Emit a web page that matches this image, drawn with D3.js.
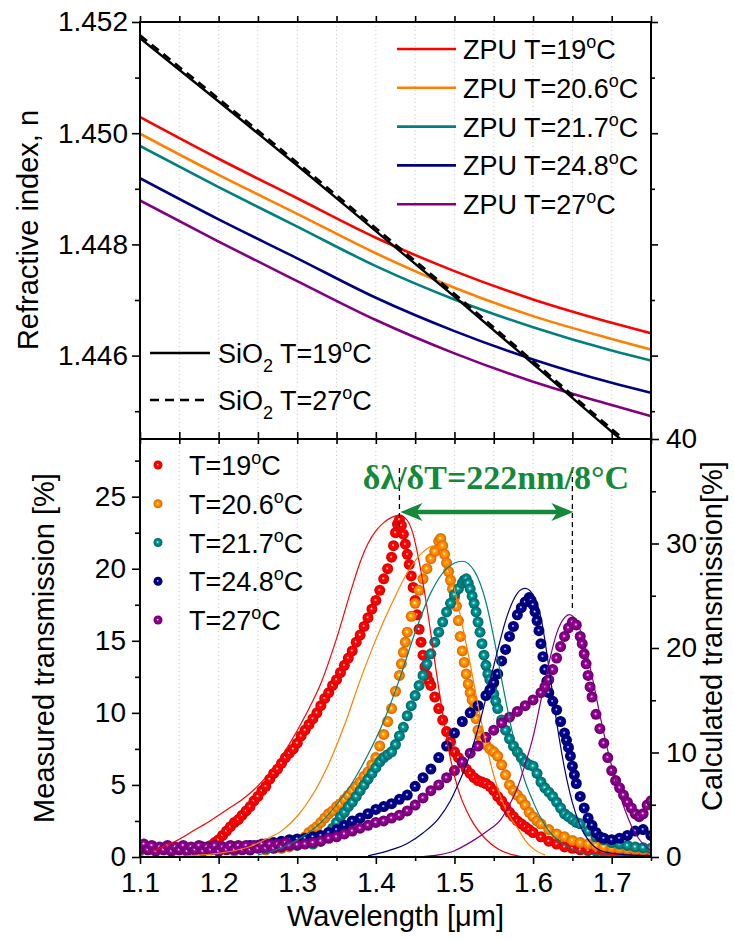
<!DOCTYPE html>
<html>
<head>
<meta charset="utf-8">
<script src="https://cdn.jsdelivr.net/npm/d3@7"></script>
<style>
  body { margin: 0; background: #fff; }
  svg { font-family: "Liberation Sans", Arial, sans-serif; }
</style>
</head>
<body>
<svg id="chart" width="734" height="941"></svg>
<script>
// ---- data: refractive index (top panel) ----
const lambdaTop = [1.10, 1.20, 1.30, 1.40, 1.50, 1.60, 1.70, 1.75];
const sio2T19 = [1.45171, 1.45057, 1.44942, 1.44824, 1.44706, 1.44585, 1.44463, 1.44404];
const sio2T27 = [1.45176, 1.45062, 1.44947, 1.44829, 1.44711, 1.44590, 1.44468, 1.44409];
const zpuT19 = [1.45029, 1.44954, 1.44883, 1.44812, 1.44752, 1.44701, 1.44659, 1.44640];
const zpuT206 = [1.44999, 1.44925, 1.44855, 1.44784, 1.44722, 1.44671, 1.44630, 1.44611];
const zpuT217 = [1.44977, 1.44903, 1.44832, 1.44761, 1.44701, 1.44651, 1.44609, 1.44591];
const zpuT248 = [1.44919, 1.44845, 1.44775, 1.44704, 1.44644, 1.44593, 1.44551, 1.44533];
const zpuT27 = [1.44879, 1.44805, 1.44734, 1.44664, 1.44604, 1.44553, 1.44511, 1.44491];

const temps = ['19', '20.6', '21.7', '24.8', '27'];
const colors = ['#ff0000', '#ff8000', '#008080', '#000080', '#800080'];

// ---- data: measured transmission [%] (left axis), [wavelength, value] ----
const measT19 = [[1.10,0.5],[1.11,0.5],[1.12,0.5],[1.13,0.5],[1.14,0.5],[1.15,0.5],[1.16,0.5],[1.17,0.5],[1.18,0.6],[1.19,0.8],[1.195,1.0],[1.20,1.2],[1.205,1.5],[1.21,1.8],[1.215,2.1],[1.22,2.4],[1.225,2.6],[1.23,2.9],[1.235,3.2],[1.24,3.5],[1.245,3.9],[1.25,4.2],[1.255,4.6],[1.26,4.9],[1.265,5.4],[1.27,5.8],[1.275,6.1],[1.28,6.5],[1.285,6.9],[1.29,7.2],[1.295,7.5],[1.30,7.9],[1.305,8.4],[1.31,8.8],[1.315,9.2],[1.32,9.6],[1.325,10.0],[1.33,10.5],[1.335,11.0],[1.34,11.4],[1.345,11.9],[1.35,12.3],[1.355,12.8],[1.36,13.3],[1.365,13.8],[1.37,14.3],[1.375,14.9],[1.38,15.4],[1.385,16.0],[1.39,16.6],[1.395,17.2],[1.40,17.8],[1.405,18.5],[1.41,19.3],[1.415,20.0],[1.42,20.8],[1.4225,21.6],[1.425,22.5],[1.4275,23.1],[1.43,23.4],[1.4325,23.0],[1.435,22.4],[1.4375,21.7],[1.44,21.0],[1.4425,20.3],[1.445,19.5],[1.4475,18.7],[1.45,17.8],[1.4525,16.8],[1.455,15.8],[1.4575,14.9],[1.46,14.0],[1.4625,13.2],[1.465,12.6],[1.4675,12.2],[1.47,11.9],[1.475,11.1],[1.48,10.3],[1.485,9.5],[1.49,8.7],[1.495,8.0],[1.50,7.3],[1.505,6.9],[1.51,6.5],[1.515,6.1],[1.52,5.8],[1.525,5.5],[1.53,5.3],[1.535,5.2],[1.54,5.1],[1.545,4.9],[1.55,4.6],[1.555,4.2],[1.56,3.9],[1.565,3.5],[1.57,3.1],[1.575,2.8],[1.58,2.5],[1.585,2.3],[1.59,2.1],[1.595,1.9],[1.60,1.7],[1.61,1.4],[1.62,1.1],[1.63,0.9],[1.64,0.7],[1.65,0.6],[1.66,0.5],[1.67,0.45],[1.68,0.4],[1.69,0.35],[1.70,0.3],[1.71,0.3],[1.72,0.25],[1.73,0.25],[1.74,0.2],[1.75,0.2]];
const measT206 = [[1.10,0.4],[1.12,0.4],[1.14,0.4],[1.16,0.4],[1.18,0.4],[1.20,0.4],[1.22,0.4],[1.24,0.5],[1.26,0.5],[1.28,0.6],[1.29,0.7],[1.30,0.9],[1.305,1.1],[1.31,1.4],[1.315,1.7],[1.32,1.9],[1.325,2.1],[1.33,2.4],[1.335,2.7],[1.34,3.0],[1.345,3.2],[1.35,3.5],[1.355,3.7],[1.36,4.0],[1.365,4.3],[1.37,4.6],[1.375,4.9],[1.38,5.2],[1.385,5.6],[1.39,5.9],[1.395,6.4],[1.40,6.9],[1.405,7.7],[1.41,8.5],[1.415,9.4],[1.42,10.3],[1.425,11.5],[1.43,12.6],[1.4325,13.4],[1.435,14.2],[1.4375,14.9],[1.44,15.6],[1.445,16.7],[1.45,17.6],[1.455,18.5],[1.46,19.3],[1.465,20.0],[1.47,20.7],[1.475,21.2],[1.48,21.9],[1.4825,22.1],[1.485,21.6],[1.4875,21.0],[1.49,20.4],[1.4925,19.8],[1.495,19.2],[1.4975,18.6],[1.50,18.0],[1.5025,17.4],[1.505,16.4],[1.5075,15.3],[1.51,14.3],[1.5125,13.5],[1.515,12.7],[1.5175,12.0],[1.52,11.4],[1.5225,10.9],[1.525,10.3],[1.5275,9.6],[1.53,8.8],[1.5325,8.4],[1.535,8.1],[1.54,7.8],[1.545,7.5],[1.55,7.3],[1.555,7.0],[1.56,6.4],[1.565,5.7],[1.57,5.0],[1.575,4.6],[1.58,4.3],[1.585,4.0],[1.59,3.6],[1.595,3.1],[1.60,2.8],[1.605,2.5],[1.61,2.3],[1.62,1.9],[1.63,1.6],[1.64,1.4],[1.65,1.15],[1.66,1.0],[1.67,0.9],[1.68,0.8],[1.69,0.7],[1.70,0.65],[1.71,0.6],[1.72,0.55],[1.73,0.5],[1.74,0.5],[1.75,0.5]];
const measT217 = [[1.10,0.5],[1.12,0.5],[1.14,0.5],[1.16,0.5],[1.18,0.5],[1.20,0.5],[1.22,0.5],[1.24,0.5],[1.26,0.6],[1.28,0.7],[1.30,0.8],[1.32,0.9],[1.33,1.1],[1.335,1.4],[1.34,1.7],[1.345,2.0],[1.35,2.4],[1.355,2.8],[1.36,3.1],[1.365,3.5],[1.37,3.8],[1.375,4.2],[1.38,4.6],[1.385,5.0],[1.39,5.4],[1.395,5.8],[1.40,6.2],[1.405,6.6],[1.41,6.9],[1.415,7.1],[1.42,7.3],[1.425,7.8],[1.43,8.4],[1.435,9.0],[1.44,9.8],[1.445,10.5],[1.45,11.2],[1.455,11.9],[1.46,12.6],[1.465,13.4],[1.47,14.1],[1.475,14.9],[1.48,15.6],[1.485,16.3],[1.49,17.0],[1.495,17.6],[1.50,18.2],[1.505,18.6],[1.51,19.0],[1.5125,19.2],[1.515,19.3],[1.5175,19.0],[1.52,18.6],[1.5225,18.1],[1.525,17.6],[1.5275,17.0],[1.53,16.3],[1.5325,15.6],[1.535,14.8],[1.5375,14.0],[1.54,13.3],[1.5425,12.7],[1.545,12.3],[1.5475,11.8],[1.55,11.3],[1.5525,10.8],[1.555,10.3],[1.56,9.5],[1.565,8.8],[1.57,8.2],[1.575,7.7],[1.58,7.3],[1.585,6.9],[1.59,6.6],[1.595,6.4],[1.60,6.3],[1.605,5.8],[1.61,5.2],[1.615,4.8],[1.62,4.5],[1.625,4.2],[1.63,3.8],[1.635,3.4],[1.64,3.0],[1.645,2.8],[1.65,2.6],[1.655,2.4],[1.66,2.3],[1.67,1.8],[1.68,1.4],[1.69,1.2],[1.70,1.0],[1.71,0.9],[1.72,0.8],[1.73,0.7],[1.74,0.65],[1.75,0.6]];
const measT248 = [[1.10,0.6],[1.12,0.6],[1.14,0.6],[1.16,0.6],[1.18,0.7],[1.20,0.7],[1.22,0.7],[1.24,0.8],[1.25,0.8],[1.26,0.9],[1.27,1.0],[1.28,1.1],[1.29,1.2],[1.30,1.25],[1.31,1.3],[1.32,1.4],[1.33,1.5],[1.34,1.7],[1.35,1.9],[1.36,2.2],[1.37,2.5],[1.38,2.7],[1.39,3.0],[1.40,3.3],[1.41,3.5],[1.42,3.7],[1.43,4.0],[1.44,4.3],[1.45,4.9],[1.46,5.5],[1.47,6.1],[1.48,6.9],[1.49,7.7],[1.50,8.6],[1.51,9.4],[1.52,10.0],[1.53,10.5],[1.54,11.2],[1.545,11.6],[1.55,12.1],[1.555,12.7],[1.56,13.6],[1.565,14.4],[1.57,15.3],[1.575,16.0],[1.58,16.8],[1.585,17.3],[1.59,17.7],[1.595,18.0],[1.5975,17.8],[1.60,17.5],[1.6025,17.0],[1.605,16.4],[1.6075,15.7],[1.61,14.8],[1.6125,13.9],[1.615,13.0],[1.6175,12.2],[1.62,11.4],[1.625,10.8],[1.63,10.2],[1.635,9.4],[1.64,8.6],[1.6425,8.1],[1.645,7.6],[1.6475,7.0],[1.65,6.3],[1.6525,5.7],[1.655,5.1],[1.66,4.2],[1.665,3.4],[1.67,2.7],[1.675,2.2],[1.68,1.7],[1.685,1.4],[1.69,1.3],[1.70,1.2],[1.71,1.3],[1.72,1.5],[1.73,1.8],[1.74,1.9],[1.75,1.5]];
const measT27 = [[1.10,0.6],[1.105,0.9],[1.11,0.5],[1.115,0.8],[1.12,0.4],[1.125,0.7],[1.13,0.5],[1.135,0.8],[1.14,0.4],[1.145,0.7],[1.15,0.5],[1.155,0.8],[1.16,0.4],[1.165,0.7],[1.17,0.5],[1.175,0.8],[1.18,0.4],[1.185,0.7],[1.19,0.5],[1.195,0.8],[1.20,0.4],[1.205,0.7],[1.21,0.5],[1.215,0.8],[1.22,0.5],[1.225,0.8],[1.23,0.5],[1.235,0.8],[1.24,0.5],[1.245,0.8],[1.25,0.6],[1.255,0.9],[1.26,0.6],[1.265,0.9],[1.27,0.6],[1.275,0.9],[1.28,0.7],[1.285,1.0],[1.29,0.8],[1.30,0.85],[1.31,0.9],[1.32,1.0],[1.33,1.1],[1.34,1.3],[1.35,1.4],[1.36,1.6],[1.37,1.8],[1.38,2.0],[1.39,2.2],[1.40,2.4],[1.41,2.5],[1.42,2.7],[1.43,2.9],[1.44,3.2],[1.45,3.6],[1.46,4.1],[1.47,4.6],[1.48,5.0],[1.49,5.5],[1.50,6.0],[1.51,6.6],[1.52,7.2],[1.53,7.7],[1.54,8.3],[1.55,8.8],[1.56,9.3],[1.57,9.7],[1.58,10.1],[1.59,10.5],[1.60,10.9],[1.61,11.4],[1.615,11.8],[1.62,12.3],[1.625,13.0],[1.63,13.8],[1.635,14.6],[1.64,15.3],[1.645,15.9],[1.65,16.3],[1.655,16.1],[1.66,15.3],[1.6625,14.8],[1.665,14.1],[1.6675,13.4],[1.67,12.6],[1.6725,11.8],[1.675,11.1],[1.68,9.9],[1.685,8.9],[1.69,7.9],[1.695,6.9],[1.70,6.0],[1.705,5.3],[1.71,4.8],[1.715,4.3],[1.72,3.8],[1.725,3.4],[1.73,3.0],[1.735,2.8],[1.74,3.0],[1.745,3.6],[1.75,3.9]];

// ---- data: calculated transmission [%] (right axis) ----
const calcT19 = [[1.115,0.5],[1.13,1.0],[1.15,1.7],[1.17,2.6],[1.19,3.5],[1.21,4.5],[1.23,5.5],[1.25,6.8],[1.27,8.5],[1.29,10.8],[1.31,13.5],[1.33,16.6],[1.35,20.9],[1.37,25.9],[1.38,28.2],[1.39,30.0],[1.40,31.2],[1.41,32.0],[1.42,32.5],[1.43,32.7],[1.44,32.2],[1.447,31.0],[1.455,28.3],[1.465,23.9],[1.475,18.7],[1.485,13.7],[1.495,9.4],[1.505,6.4],[1.515,4.5],[1.525,3.1],[1.54,1.7],[1.555,0.8],[1.57,0.3],[1.585,0.05]];
const calcT206 = [[1.14,0.05],[1.16,0.1],[1.18,0.2],[1.20,0.35],[1.22,0.6],[1.24,1.0],[1.26,1.7],[1.28,2.5],[1.30,3.9],[1.32,6.0],[1.34,8.9],[1.36,12.6],[1.38,16.9],[1.40,20.8],[1.42,24.2],[1.44,27.2],[1.46,29.2],[1.475,29.8],[1.49,28.0],[1.50,25.6],[1.51,22.2],[1.52,18.5],[1.53,14.5],[1.54,10.9],[1.55,7.8],[1.56,5.5],[1.57,3.9],[1.58,2.8],[1.59,1.6],[1.60,0.8],[1.615,0.2]];
const calcT217 = [[1.25,0.2],[1.27,0.6],[1.29,1.2],[1.31,2.1],[1.33,3.3],[1.35,5.0],[1.37,7.1],[1.39,9.8],[1.41,13.0],[1.43,17.0],[1.45,21.5],[1.47,25.3],[1.49,27.6],[1.51,28.3],[1.525,27.4],[1.54,24.4],[1.55,21.0],[1.56,17.0],[1.57,13.2],[1.58,9.8],[1.59,7.2],[1.60,5.3],[1.61,3.7],[1.62,2.5],[1.635,1.4],[1.655,0.6],[1.68,0.2],[1.75,0.05]];
const calcT248 = [[1.39,0.1],[1.42,0.7],[1.44,1.3],[1.46,2.3],[1.48,3.7],[1.495,5.4],[1.505,7.0],[1.515,8.8],[1.525,11.0],[1.535,13.7],[1.545,16.8],[1.555,19.8],[1.565,22.6],[1.575,24.6],[1.585,25.6],[1.59,25.7],[1.60,25.1],[1.61,22.9],[1.62,18.2],[1.63,12.9],[1.64,8.5],[1.65,5.2],[1.66,3.0],[1.675,1.2],[1.69,0.5],[1.72,0.2],[1.75,0.1]];
const calcT27 = [[1.46,0.05],[1.48,0.2],[1.50,0.6],[1.52,1.4],[1.54,2.4],[1.56,3.7],[1.57,5.0],[1.58,6.6],[1.59,8.9],[1.60,11.5],[1.61,15.0],[1.62,18.5],[1.63,21.4],[1.64,22.9],[1.646,23.2],[1.655,22.6],[1.665,20.5],[1.675,17.3],[1.685,13.6],[1.695,10.2],[1.705,7.3],[1.715,4.9],[1.725,3.0],[1.735,1.7],[1.75,0.6]];

// ---- ticks ----
const xMajor = [1.1, 1.2, 1.3, 1.4, 1.5, 1.6, 1.7];
const xAll = d3.range(0, 14).map(i => +(1.1 + i * 0.05).toFixed(2));
const nMajor = [1.446, 1.448, 1.450, 1.452];
const nMinor = [1.445, 1.447, 1.449, 1.451];
const measMajor = [0, 5, 10, 15, 20, 25];
const measMinor = [2.5, 7.5, 12.5, 17.5, 22.5, 27.5];
const calcMajor = [0, 10, 20, 30, 40];
const calcMinor = [5, 15, 25, 35];
const peakMarks = [1.43, 1.65];

const zpuValues = [zpuT19, zpuT206, zpuT217, zpuT248, zpuT27];
const measValues = [measT19, measT206, measT217, measT248, measT27];
const calcValues = [calcT19, calcT206, calcT217, calcT248, calcT27];

const svg = d3.select('#chart');
const L = 140, R = 651, T1 = 22, MID = 439, B = 857;
const x = d3.scaleLinear().domain([1.1, 1.75]).range([L, R]);
const yTop = d3.scaleLinear().domain([1.4445, 1.452]).range([MID, T1]);
const yL = d3.scaleLinear().domain([0, 29]).range([B, MID]);
const yR = d3.scaleLinear().domain([0, 40]).range([B, MID]);

const defs = svg.append('defs');
defs.append('clipPath').attr('id', 'clipTop').append('rect')
  .attr('x', L).attr('y', T1).attr('width', R - L).attr('height', MID - T1);
defs.append('clipPath').attr('id', 'clipBot').append('rect')
  .attr('x', L).attr('y', MID).attr('width', R - L).attr('height', B - MID);

colors.forEach((c, i) => {
  const g = defs.append('radialGradient').attr('id', 'ball' + i)
    .attr('cx', '50%').attr('cy', '50%').attr('r', '50%').attr('fx', '45%').attr('fy', '45%');
  g.append('stop').attr('offset', '0%').attr('stop-color', '#fff');
  g.append('stop').attr('offset', '28%').attr('stop-color', d3.color(c).brighter(0.7));
  g.append('stop').attr('offset', '62%').attr('stop-color', c);
  g.append('stop').attr('offset', '100%').attr('stop-color', d3.color(c).darker(0.6));
});

// grid
[[T1, MID], [MID, B]].forEach(([y0, y1]) => {
  svg.append('g').selectAll('line').data(xAll.slice(1, -1)).join('line')
    .attr('x1', d => x(d)).attr('x2', d => x(d)).attr('y1', y0).attr('y2', y1)
    .attr('stroke', '#c8c8c8').attr('stroke-width', 1).attr('stroke-dasharray', '1,3');
});

// ---- top panel ----
const topG = svg.append('g').attr('clip-path', 'url(#clipTop)');
const lineTop = d3.line().x((d, i) => x(lambdaTop[i])).y(d => yTop(d)).curve(d3.curveMonotoneX);
zpuValues.forEach((v, i) => {
  topG.append('path').attr('d', lineTop(v)).attr('fill', 'none')
    .attr('stroke', colors[i]).attr('stroke-width', 2.6);
});
topG.append('path').attr('d', lineTop(sio2T19)).attr('fill', 'none')
  .attr('stroke', '#000').attr('stroke-width', 2.4);
topG.append('path').attr('d', lineTop(sio2T27)).attr('fill', 'none')
  .attr('stroke', '#000').attr('stroke-width', 2.6).attr('stroke-dasharray', '9,6');

// ---- bottom panel ----
const botG = svg.append('g').attr('clip-path', 'url(#clipBot)');
measValues.forEach((v, i) => {
  botG.append('g').selectAll('circle').data(v).join('circle')
    .attr('cx', d => x(d[0])).attr('cy', d => yL(d[1])).attr('r', 5.5)
    .attr('fill', `url(#ball${i})`);
});
const lineCalc = d3.line().x(d => x(d[0])).y(d => yR(d[1])).curve(d3.curveMonotoneX);
calcValues.forEach((v, i) => {
  botG.append('path').attr('d', lineCalc(v)).attr('fill', 'none')
    .attr('stroke', colors[i]).attr('stroke-width', 1.2);
});

// peak shift annotation
const green = '#15893a';
svg.append('g').selectAll('line').data(peakMarks).join('line')
  .attr('x1', d => x(d)).attr('x2', d => x(d))
  .attr('y1', 468).attr('y2', (d, i) => i === 0 ? 527 : 612)
  .attr('stroke', '#000').attr('stroke-width', 1.3).attr('stroke-dasharray', '5,4');
const ay = 512, ax0 = x(peakMarks[0]) + 1, ax1 = x(peakMarks[1]) + 1;
svg.append('line').attr('x1', ax0 + 12).attr('x2', ax1 - 12).attr('y1', ay).attr('y2', ay)
  .attr('stroke', green).attr('stroke-width', 4.5);
svg.append('path').attr('fill', green)
  .attr('d', `M${ax0},${ay} L${ax0 + 22},${ay - 9} L${ax0 + 16},${ay} L${ax0 + 22},${ay + 9} Z`);
svg.append('path').attr('fill', green)
  .attr('d', `M${ax1},${ay} L${ax1 - 22},${ay - 9} L${ax1 - 16},${ay} L${ax1 - 22},${ay + 9} Z`);
svg.append('text').attr('x', 496).attr('y', 489).attr('text-anchor', 'middle')
  .attr('font-family', '"Liberation Serif", "Times New Roman", serif')
  .attr('font-weight', 'bold').attr('font-size', 34).attr('fill', green)
  .text('δλ/δT=222nm/8°C');

// ---- frames ----
svg.append('rect').attr('x', L).attr('y', T1).attr('width', R - L).attr('height', B - T1)
  .attr('fill', 'none').attr('stroke', '#000').attr('stroke-width', 2);
svg.append('line').attr('x1', L).attr('x2', R).attr('y1', MID).attr('y2', MID)
  .attr('stroke', '#000').attr('stroke-width', 2);

// ---- axes ----
const fontTick = 28;
function styleAxis(g) {
  g.select('.domain').remove();
  g.selectAll('.tick line').attr('stroke', '#000').attr('stroke-width', 1.6);
  g.selectAll('.tick text').attr('fill', '#000')
    .attr('font-family', '"Liberation Sans", Arial, sans-serif').attr('font-size', fontTick);
}
function addAxis(axis, tx, ty) {
  svg.append('g').attr('transform', `translate(${tx},${ty})`).call(axis).call(styleAxis);
}
const noLabel = () => '';
// bottom x axis
addAxis(d3.axisBottom(x).tickValues(xMajor).tickSize(7).tickPadding(8).tickFormat(d3.format('.1f')), 0, B);
addAxis(d3.axisBottom(x).tickValues(xAll.filter(d => !xMajor.includes(d))).tickSize(4).tickFormat(noLabel), 0, B);
// shared middle border and top border
addAxis(d3.axisTop(x).tickValues(xAll).tickSize(7).tickFormat(noLabel), 0, MID);
addAxis(d3.axisBottom(x).tickValues(xAll).tickSize(5).tickFormat(noLabel), 0, MID);
addAxis(d3.axisTop(x).tickValues(xAll).tickSize(6).tickFormat(noLabel), 0, T1);
// top panel y axes
addAxis(d3.axisLeft(yTop).tickValues(nMajor).tickSize(8).tickPadding(4).tickFormat(d3.format('.3f')), L, 0);
addAxis(d3.axisLeft(yTop).tickValues(nMinor).tickSize(5).tickFormat(noLabel), L, 0);
addAxis(d3.axisRight(yTop).tickValues(nMajor).tickSize(7).tickFormat(noLabel), R, 0);
addAxis(d3.axisRight(yTop).tickValues(nMinor).tickSize(4).tickFormat(noLabel), R, 0);
// bottom panel y axes
addAxis(d3.axisLeft(yL).tickValues(measMajor).tickSize(8).tickPadding(6).tickFormat(d3.format('d')), L, 0);
addAxis(d3.axisLeft(yL).tickValues(measMinor).tickSize(5).tickFormat(noLabel), L, 0);
addAxis(d3.axisRight(yR).tickValues(calcMajor).tickSize(8).tickPadding(7).tickFormat(d3.format('d')), R, 0);
addAxis(d3.axisRight(yR).tickValues(calcMinor).tickSize(5).tickFormat(noLabel), R, 0);

// axis titles
const fontTitle = 29;
svg.append('text').attr('transform', 'translate(38,230) rotate(-90)').attr('text-anchor', 'middle')
  .attr('font-size', fontTitle).text('Refractive index, n');
svg.append('text').attr('transform', 'translate(54,648) rotate(-90)').attr('text-anchor', 'middle')
  .attr('font-size', fontTitle).text('Measured transmission [%]');
svg.append('text').attr('transform', 'translate(722,636) rotate(-90)').attr('text-anchor', 'middle')
  .attr('font-size', fontTitle).text('Calculated transmission[%]');
svg.append('text').attr('x', (L + R) / 2).attr('y', 926).attr('text-anchor', 'middle')
  .attr('font-size', fontTitle).text('Wavelength [μm]');

// ---- legends ----
const fontLeg = 27;
function degText(t, xPos, yPos, prefix, value) {
  const tx = t.append('text').attr('x', xPos).attr('y', yPos).attr('font-size', fontLeg);
  tx.append('tspan').text(prefix + 'T=' + value);
  tx.append('tspan').attr('dy', -11).attr('font-size', 18).text('o');
  tx.append('tspan').attr('dy', 11).text('C');
  return tx;
}
const legTop = svg.append('g');
temps.forEach((t, i) => {
  const yy = 49 + i * 38.8;
  legTop.append('line').attr('x1', 397).attr('x2', 456).attr('y1', yy).attr('y2', yy)
    .attr('stroke', colors[i]).attr('stroke-width', 2.6);
  degText(legTop, 463, yy + 10, 'ZPU ', t);
});

const sioLeg = svg.append('g');
[['19', null], ['27', '9,6']].forEach(([t, dash], i) => {
  const yy = 353 + i * 47;
  const ln = sioLeg.append('line').attr('x1', 150).attr('x2', 210).attr('y1', yy).attr('y2', yy)
    .attr('stroke', '#000').attr('stroke-width', 2.5);
  if (dash) ln.attr('stroke-dasharray', dash);
  const tx = sioLeg.append('text').attr('x', 218).attr('y', yy + 10).attr('font-size', fontLeg);
  tx.append('tspan').text('SiO');
  tx.append('tspan').attr('dy', 9).attr('font-size', 18).text('2');
  tx.append('tspan').attr('dy', -9).text(' T=' + t);
  tx.append('tspan').attr('dy', -11).attr('font-size', 18).text('o');
  tx.append('tspan').attr('dy', 11).text('C');
});

const legBot = svg.append('g');
temps.forEach((t, i) => {
  const yy = 465 + i * 38.75;
  legBot.append('circle').attr('cx', 158).attr('cy', yy).attr('r', 4.5).attr('fill', `url(#ball${i})`);
  degText(legBot, 189, yy + 10, '', t);
});
</script>
</body>
</html>
